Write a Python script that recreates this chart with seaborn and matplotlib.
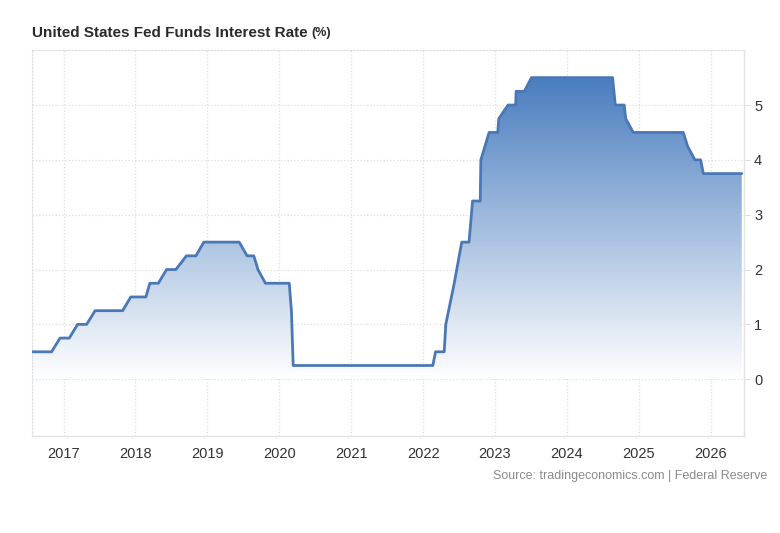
import numpy as np
import pandas as pd
import matplotlib
matplotlib.use("Agg")
import matplotlib.pyplot as plt
import matplotlib.dates as mdates
from matplotlib.colors import LinearSegmentedColormap
import seaborn as sns

# breakpoints of the rate line (date, percent)
dates = ["2016-07-22", "2016-11-01", "2016-12-14", "2017-01-30", "2017-03-13",
         "2017-04-28", "2017-06-10", "2017-10-28", "2017-12-08", "2018-02-23",
         "2018-03-15", "2018-04-27", "2018-06-08", "2018-07-25", "2018-09-17",
         "2018-11-04", "2018-12-14", "2019-06-12", "2019-07-22", "2019-08-25",
         "2019-09-15", "2019-10-23", "2020-02-21", "2020-03-03", "2020-03-12",
         "2022-02-19", "2022-03-05", "2022-04-18", "2022-04-26", "2022-06-08",
         "2022-07-16", "2022-08-22", "2022-09-09", "2022-10-18", "2022-10-21",
         "2022-12-02", "2023-01-15", "2023-01-20", "2023-03-08", "2023-04-16",
         "2023-04-18", "2023-05-30", "2023-07-05", "2024-08-20", "2024-09-03",
         "2024-10-18", "2024-10-26", "2024-12-03", "2025-08-14", "2025-09-05",
         "2025-10-12", "2025-11-10", "2025-11-24", "2026-06-07"]
rates = [0.50, 0.50, 0.75, 0.75, 1.00,
         1.00, 1.25, 1.25, 1.50, 1.50,
         1.75, 1.75, 2.00, 2.00, 2.25,
         2.25, 2.50, 2.50, 2.25, 2.25,
         2.00, 1.75, 1.75, 1.25, 0.25,
         0.25, 0.50, 0.50, 1.00, 1.75,
         2.50, 2.50, 3.25, 3.25, 4.00,
         4.50, 4.50, 4.75, 5.00, 5.00,
         5.25, 5.25, 5.50, 5.50, 5.00,
         5.00, 4.75, 4.50, 4.50, 4.25,
         4.00, 4.00, 3.75, 3.75]
years = list(range(2017, 2027))
y_ticks = [0, 1, 2, 3, 4, 5]

df = pd.DataFrame({"date": pd.to_datetime(dates), "rate": rates})

sns.set_style("white")
plt.rcParams["font.family"] = ["Liberation Sans", "DejaVu Sans"]

line_col = "#4a78b6"
grid_col = "#dedede"

fig = plt.figure(figsize=(7.8, 5.33), dpi=100)
ax = fig.add_axes([31.5 / 780, 1 - 435.7 / 533, (744.3 - 31.5) / 780, (435.7 - 50.2) / 533])

# gradient fill under the line
poly = ax.fill_between(df["date"], df["rate"], 0, facecolor="none", edgecolor="none")
xnum = mdates.date2num(df["date"])
cmap = LinearSegmentedColormap.from_list("fade", ["#ffffff", "#4a7dbf"])
grad = np.linspace(0, 1, 256).reshape(-1, 1)
im = ax.imshow(grad, extent=[xnum.min(), xnum.max(), 0, 5.5], origin="lower",
               aspect="auto", cmap=cmap, zorder=1)
im.set_clip_path(poly.get_paths()[0], transform=ax.transData)

sns.lineplot(data=df, x="date", y="rate", ax=ax, color=line_col, linewidth=2.0,
             zorder=3, estimator=None, sort=False)

ax.set_xlim(pd.Timestamp("2016-07-22"), pd.Timestamp("2026-06-20"))
ax.set_ylim(-1.03, 6)

ax.set_xticks([pd.Timestamp(f"{y}-01-01") for y in years])
ax.set_xticklabels([str(y) for y in years])
ax.set_yticks(y_ticks)
ax.set_yticklabels([str(t) for t in y_ticks])
ax.yaxis.tick_right()
ax.tick_params(axis="y", length=4, color=grid_col, labelsize=10.5, labelcolor="#333333", pad=3)
ax.tick_params(axis="x", length=0, labelsize=10.5, labelcolor="#333333", pad=8)
ax.set_xlabel("")
ax.set_ylabel("")

ax.grid(True, color=grid_col, linestyle=":", linewidth=0.9)
ax.set_axisbelow(True)
for side in ["top", "left"]:
    ax.spines[side].set_linestyle(":")
    ax.spines[side].set_color(grid_col)
    ax.spines[side].set_linewidth(0.9)
for side in ["right", "bottom"]:
    ax.spines[side].set_color("#e3e3e3")
    ax.spines[side].set_linewidth(1.0)

title = fig.text(32 / 780, 1 - 33 / 533, "United States Fed Funds Interest Rate",
                 fontsize=11, fontweight="bold", color="#2b2b2b", va="center", ha="left")
fig.canvas.draw()
ax.annotate("(%)", xy=(1, 0), xycoords=title, xytext=(3, 0.5), textcoords="offset points",
            fontsize=9, fontweight="bold", color="#2b2b2b", va="bottom", ha="left")

fig.text(767 / 780, 1 - 476 / 533, "Source: tradingeconomics.com | Federal Reserve",
         fontsize=9, color="#8a8a8a", ha="right", va="center")

fig.savefig("out.png", dpi=100)
